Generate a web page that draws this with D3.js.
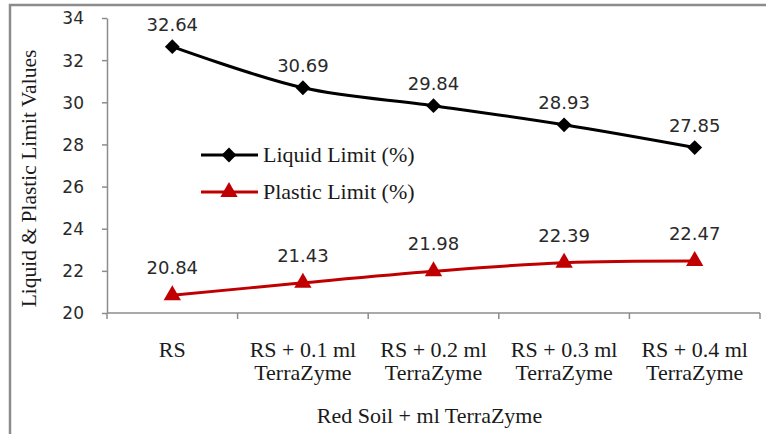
<!DOCTYPE html>
<html>
<head>
    <script src="https://d3js.org/d3.v7.min.js"></script>
    <style>
        body { margin: 0; background: white; }
        svg { display: block; }
        .num { font-family: "DejaVu Sans", Verdana, sans-serif; fill: #2a2a2a; }
        .serif { font-family: "Liberation Serif", "Times New Roman", serif; fill: #1a1a1a; }
    </style>
</head>
<body>
    <svg width="766" height="434"></svg>
    <script>
        // chart data
        const categories = [
            ["RS"],
            ["RS + 0.1 ml", "TerraZyme"],
            ["RS + 0.2 ml", "TerraZyme"],
            ["RS + 0.3 ml", "TerraZyme"],
            ["RS + 0.4 ml", "TerraZyme"]
        ];
        const liquidLimit = [32.64, 30.69, 29.84, 28.93, 27.85];
        const plasticLimit = [20.84, 21.43, 21.98, 22.39, 22.47];
        const yTicks = [20, 22, 24, 26, 28, 30, 32, 34];

        const series = [
            { name: "Liquid Limit (%)", values: liquidLimit, color: "#000000", marker: "diamond", labelDy: -16 },
            { name: "Plastic Limit (%)", values: plasticLimit, color: "#c00000", marker: "triangle", labelDy: -21 }
        ];

        let svg = d3.select("svg");

        // outer frame (cropped on right and bottom)
        svg.append("rect")
            .attr("x", 10).attr("y", 5)
            .attr("width", 900).attr("height", 600)
            .attr("fill", "none")
            .attr("stroke", "#8c8c8c")
            .attr("stroke-width", 2.5);

        let mLeft = 107, mRight = 760, mTop = 18, mBottom = 313;

        let x = d3.scaleBand()
            .domain(d3.range(categories.length))
            .range([mLeft, mRight]);
        let y = d3.scaleLinear()
            .domain([20, 34])
            .range([mBottom, mTop]);

        // y axis
        let yAxis = svg.append("g")
            .attr("transform", "translate(" + mLeft + ",0)")
            .call(d3.axisLeft(y).tickValues(yTicks).tickSize(5).tickSizeOuter(0).tickPadding(18));
        yAxis.select(".domain").attr("stroke", "#8c8c8c").attr("stroke-width", 1.5);
        yAxis.selectAll(".tick line").attr("stroke", "#8c8c8c").attr("stroke-width", 1.5);
        yAxis.selectAll(".tick text")
            .attr("class", "num")
            .style("font-size", "17px")
            .attr("dy", "0.35em");

        // x axis line and ticks at band edges
        svg.append("line")
            .attr("x1", mLeft).attr("x2", mRight)
            .attr("y1", mBottom).attr("y2", mBottom)
            .attr("stroke", "#8c8c8c").attr("stroke-width", 1.5);
        let edges = d3.range(categories.length + 1).map(i => mLeft + i * x.bandwidth());
        svg.selectAll(".xtick")
            .data(edges)
            .enter().append("line")
            .attr("x1", d => d).attr("x2", d => d)
            .attr("y1", mBottom).attr("y2", mBottom + 6)
            .attr("stroke", "#8c8c8c").attr("stroke-width", 1.5);

        // category labels
        svg.selectAll(".cat")
            .data(categories)
            .enter().append("text")
            .attr("class", "serif")
            .attr("text-anchor", "middle")
            .style("font-size", "22px")
            .each(function(d, i) {
                d3.select(this).selectAll("tspan")
                    .data(d)
                    .enter().append("tspan")
                    .attr("x", x(i) + x.bandwidth() / 2)
                    .attr("y", (t, j) => 357 + j * 23)
                    .text(t => t);
            });

        // axis titles
        svg.append("text")
            .attr("class", "serif")
            .attr("x", (mLeft + mRight) / 2 - 4).attr("y", 423)
            .attr("text-anchor", "middle")
            .style("font-size", "22px")
            .text("Red Soil + ml TerraZyme");

        svg.append("text")
            .attr("class", "serif")
            .attr("transform", "translate(36," + ((mTop + mBottom) / 2 + 13) + ") rotate(-90)")
            .attr("text-anchor", "middle")
            .style("font-size", "21.5px")
            .text("Liquid & Plastic Limit Values");

        let line = d3.line()
            .x((d, i) => x(i) + x.bandwidth() / 2)
            .y(d => y(d))
            .curve(d3.curveCatmullRom.alpha(0.5));

        // diamond = square turned 45 degrees, like the Excel marker
        let square = d3.symbol().type(d3.symbolSquare).size(110);
        let triangle = d3.symbol().type(d3.symbolTriangle).size(130);
        function markerAt(s, cx, cy) {
            return "translate(" + cx + "," + cy + ")" + (s.marker === "diamond" ? " rotate(45)" : "");
        }

        series.forEach(s => {
            svg.append("path")
                .datum(s.values)
                .attr("d", line)
                .attr("fill", "none")
                .attr("stroke", s.color)
                .attr("stroke-width", 3);

            svg.selectAll(".m-" + s.marker)
                .data(s.values)
                .enter().append("path")
                .attr("transform", (d, i) => markerAt(s, x(i) + x.bandwidth() / 2, y(d)))
                .attr("d", s.marker === "diamond" ? square : triangle)
                .attr("fill", s.color);

            svg.selectAll(".l-" + s.marker)
                .data(s.values)
                .enter().append("text")
                .attr("class", "num")
                .attr("x", (d, i) => x(i) + x.bandwidth() / 2)
                .attr("y", d => y(d) + s.labelDy)
                .attr("text-anchor", "middle")
                .style("font-size", "18px")
                .text(d => d.toFixed(2));
        });

        // legend
        let legend = svg.append("g");
        series.forEach((s, i) => {
            let ly = 155 + i * 37;
            legend.append("line")
                .attr("x1", 201).attr("x2", 258)
                .attr("y1", ly).attr("y2", ly)
                .attr("stroke", s.color).attr("stroke-width", 3);
            legend.append("path")
                .attr("transform", markerAt(s, 229, ly))
                .attr("d", s.marker === "diamond" ? square : triangle)
                .attr("fill", s.color);
            legend.append("text")
                .attr("class", "serif")
                .attr("x", 263).attr("y", ly + 7)
                .style("font-size", "22px")
                .text(s.name);
        });
    </script>
</body>
</html>
